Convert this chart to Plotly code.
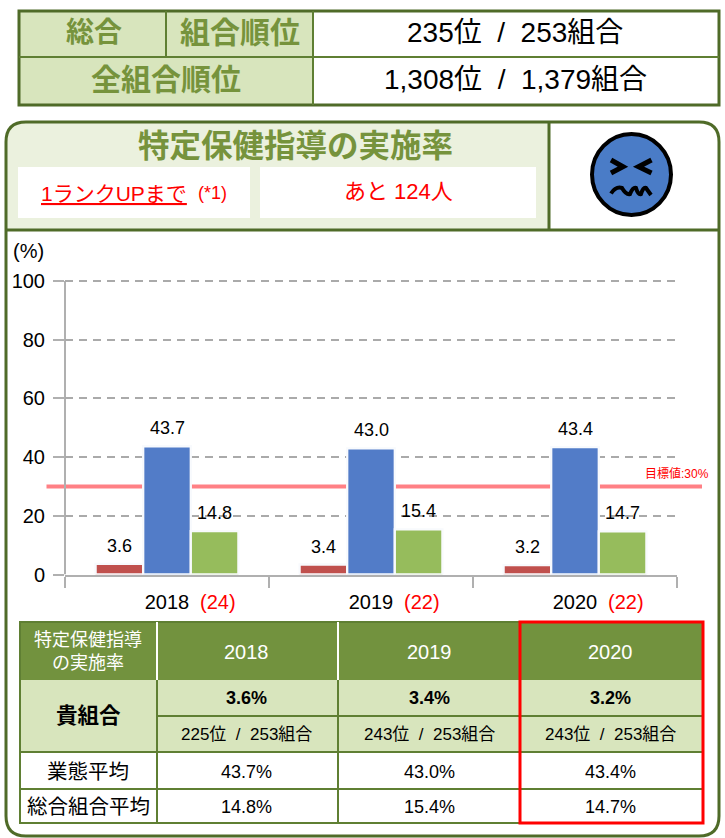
import plotly.graph_objects as go

W, H = 725, 838
YEARS = ["2018", "2019", "2020"]
CTRL_COUNTS = ["(24)", "(22)", "(22)"]
OWN = [3.6, 3.4, 3.2]
INDUSTRY = [43.7, 43.0, 43.4]
OVERALL = [14.8, 15.4, 14.7]
OWN_RANK = ["225位", "243位", "243位"]
TARGET = 30
TICKS = [0, 20, 40, 60, 80, 100]
COLORS = ["#c0504d", "#527cc8", "#96bc5c"]

DARK = "#4f6b28"
BORDER = "#5f7f33"
GREEN_TXT = "#76933c"
HEAD = "#72923e"
PALE = "#d8e5bd"
PALER = "#ebf1de"
AXC = "#b0b0b0"
FONT = "Liberation Sans, Noto Sans CJK JP"
SEP = "\u00a0\u00a0/\u00a0\u00a0"


def px(x):
    return x / W


def py(y):
    return 1 - y / H


def rect(x0, y0, x1, y1, fill=None, line=None, lw=0, layer="below"):
    return dict(type="rect", xref="paper", yref="paper", x0=px(x0), x1=px(x1), y0=py(y0), y1=py(y1),
                fillcolor=fill or "rgba(0,0,0,0)", line=dict(color=line or "rgba(0,0,0,0)", width=lw), layer=layer)


def hline(x0, x1, y, color=BORDER, lw=2):
    return dict(type="line", xref="paper", yref="paper", x0=px(x0), x1=px(x1), y0=py(y), y1=py(y),
                line=dict(color=color, width=lw), layer="below")


def vline(x, y0, y1, color=BORDER, lw=2):
    return dict(type="line", xref="paper", yref="paper", x0=px(x), x1=px(x), y0=py(y0), y1=py(y1),
                line=dict(color=color, width=lw), layer="below")


def path(points, color="black", lw=4, fill=None):
    d = ""
    for cmd, *c in points:
        d += cmd + " ".join(f"{px(c[i]):.5f},{py(c[i + 1]):.5f}" for i in range(0, len(c), 2)) + " "
    return dict(type="path", xref="paper", yref="paper", path=d.strip(), line=dict(color=color, width=lw),
                fillcolor=fill or "rgba(0,0,0,0)", layer="below")


def txt(x, y, s, size=16, color="black", bold=False, xanchor="center"):
    return dict(xref="paper", yref="paper", x=px(x), y=py(y), text=f"<b>{s}</b>" if bold else s, showarrow=False,
                xanchor=xanchor, yanchor="middle", font=dict(size=size, color=color, family=FONT),
                align="center", borderpad=0, borderwidth=0)


shapes, ann = [], []

# top summary table
shapes += [rect(19, 11, 313, 105, fill=PALE), rect(19, 11, 719, 105, line=DARK, lw=3),
           hline(19, 719, 57), vline(166, 11, 57), vline(313, 11, 105)]
ann += [txt(94, 33, "総合", 28, GREEN_TXT, True), txt(240, 33, "組合順位", 30, GREEN_TXT, True),
        txt(166, 80, "全組合順位", 30, GREEN_TXT, True),
        txt(515, 33, f"235位{SEP}253組合", 28), txt(515, 80, f"1,308位{SEP}1,379組合", 28)]

# panel
L, T, R, B, r = 6, 122, 719, 836, 20
shapes.append(path([("M", L, T + r), ("Q", L, T, L + r, T), ("L", 549, T), ("L", 549, 230), ("L", L, 230), ("Z",)],
                   color=PALER, lw=0, fill=PALER))
shapes.append(path([("M", L, T + r), ("Q", L, T, L + r, T), ("L", R - r, T), ("Q", R, T, R, T + r), ("L", R, B - r),
                    ("Q", R, B, R - r, B), ("L", L + r, B), ("Q", L, B, L, B - r), ("Z",)], color=DARK, lw=3))
shapes += [hline(L, R, 230, DARK, 3), vline(549, T, 230, DARK, 3),
           rect(18, 167, 250, 218, fill="white"), rect(260, 167, 536, 218, fill="white")]
ann += [txt(295, 146, "特定保健指導の実施率", 31.5, GREEN_TXT, True),
        txt(114, 193, "<u>1ランクUPまで</u>", 21, "#ff0000"),
        txt(212, 193, "(*1)", 18, "#ff0000"),
        txt(398, 192, "あと 124人", 22, "#ff0000")]

# face
shapes.append(dict(type="circle", xref="paper", yref="paper", x0=px(592), x1=px(671), y0=py(134), y1=py(215),
                   fillcolor="#4a7cc7", line=dict(color="black", width=4), layer="below"))
shapes.append(path([("M", 611, 160), ("L", 623, 166.7), ("L", 611, 173)], lw=5))
shapes.append(path([("M", 651.5, 160), ("L", 638.5, 166.7), ("L", 651.5, 173)], lw=5))
shapes.append(path([("M", 611, 193.5), ("Q", 616, 186, 622, 188), ("Q", 626, 195, 630, 194), ("Q", 633, 187, 636, 188),
                    ("Q", 638, 195, 641, 194), ("Q", 643, 187, 646, 188), ("L", 651, 195)], lw=4))

# chart text
ann.append(txt(28.5, 251, "(%)", 20))
ann.append(txt(677, 473, "目標値:30%", 12, "#ff0000"))

# target line reaches outside the plot area, on the value axis
shapes.append(dict(type="line", xref="paper", yref="y", x0=px(46.5), x1=px(702), y0=TARGET, y1=TARGET,
                   line=dict(color="#ff8085", width=4), layer="between"))
# the value axis line stops at the top tick
shapes.append(dict(type="line", xref="paper", yref="y", x0=px(65), x1=px(65), y0=TICKS[0], y1=TICKS[-1],
                   line=dict(color=AXC, width=2), layer="between"))

# data labels and red counts
for i, yr in enumerate(YEARS):
    for vals, dx in ((OWN, -47.6), (INDUSTRY, 0), (OVERALL, 47.6)):
        ann.append(dict(x=i, y=vals[i], xref="x", yref="y", text=f"{vals[i]:.1f}", showarrow=False, xshift=dx,
                        yshift=18, yanchor="middle", font=dict(size=18, family=FONT, color="black")))
    ann.append(dict(x=i, y=0, xref="x", yref="y", text=CTRL_COUNTS[i], showarrow=False, xshift=51, yshift=-27.5,
                    yanchor="middle", font=dict(size=20, family=FONT, color="#ff0000")))

# bottom table
X = [20, 157, 338, 520, 703]
Y = [622, 680, 716, 752, 789, 823]
shapes += [rect(X[0], Y[0], X[4], Y[1], fill=HEAD), rect(X[0], Y[1], X[4], Y[3], fill=PALE),
           rect(X[0], Y[0], X[4], Y[5], line=BORDER, lw=2)]
for x in X[1:4]:
    shapes.append(vline(x, Y[0], Y[1], "white", 2))
    shapes.append(vline(x, Y[1], Y[5], BORDER, 2))
shapes.append(hline(X[1], X[4], Y[2]))
for y in (Y[3], Y[4]):
    shapes.append(hline(X[0], X[4], y))
ann += [txt(88, 651, "特定保健指導<br>の実施率", 18, "white"), txt(88, 716, "貴組合", 21.5, "black", True),
        txt(88, 771, "業態平均", 20.5), txt(88, 806, "総合組合平均", 20.5)]
cx = [246, 429, 610]
for i, yr in enumerate(YEARS):
    ann += [txt(cx[i], 652, yr, 20, "white"),
            txt(cx[i], 698, f"{OWN[i]:.1f}%", 18, "black", True),
            txt(cx[i], 734, f"{OWN_RANK[i]}{SEP}253組合", 17),
            txt(cx[i], 772, f"{INDUSTRY[i]:.1f}%", 18),
            txt(cx[i], 807, f"{OVERALL[i]:.1f}%", 18)]
red_box = rect(520, 622, 703, 823, line="#ff0000", lw=3)
red_box["layer"] = "above"
shapes.append(red_box)

fig = go.Figure()
for name, vals, col in zip(["貴組合", "業態平均", "総合組合平均"], [OWN, INDUSTRY, OVERALL], COLORS):
    fig.add_bar(name=name, x=YEARS, y=vals, marker=dict(color=col, line=dict(color="#f8fafd", width=2.3)),
                hoverinfo="x+y")

fig.update_layout(
    width=W, height=H, margin=dict(l=0, r=0, t=0, b=0, autoexpand=False), autosize=False,
    paper_bgcolor="white", plot_bgcolor="rgba(0,0,0,0)", showlegend=False,
    barmode="group", bargap=0.30, bargroupgap=0,
    font=dict(family=FONT, color="black"),
    shapes=shapes, annotations=ann,
    xaxis=dict(domain=[65 / W, 677 / W], type="category", categoryorder="array", categoryarray=YEARS,
               range=[-0.5, 2.5], tickson="boundaries", ticks="outside", ticklen=11, automargin=False,
               ticklabelstandoff=8,
               tickcolor=AXC, tickwidth=2, showline=True, linecolor=AXC, linewidth=2, showgrid=False, tickangle=0,
               tickfont=dict(size=20, family=FONT, color="black"), anchor="y", fixedrange=True),
    yaxis=dict(domain=[1 - 574.5 / H, 1 - 278 / H], range=[0, 101.02], tickvals=TICKS, ticks="outside", ticklen=11,
               automargin=False, ticklabelstandoff=4,
               tickcolor=AXC, tickwidth=2, showline=False, gridcolor="#aaaaaa",
               griddash="8px,6px", gridwidth=2, zeroline=False, tickfont=dict(size=20, family=FONT, color="black"),
               anchor="x", fixedrange=True),
)
fig.write_html("out.html", config=dict(displayModeBar=False),
               post_script="document.body.style.margin='0';document.documentElement.style.overflow='hidden';")
